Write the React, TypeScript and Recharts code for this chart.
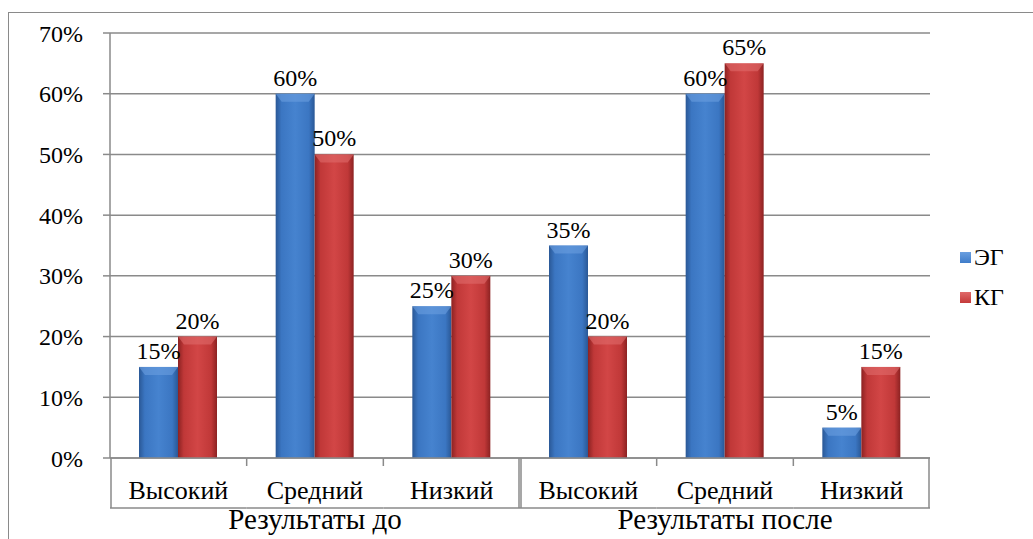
import React from "react";
import { BarChart, Bar, XAxis, YAxis, CartesianGrid, LabelList } from "recharts";

const LEVELS = ["Высокий", "Средний", "Низкий"];
const GROUPS = ["Результаты до", "Результаты после"];
const EG = [15, 60, 25, 35, 60, 5];
const KG = [20, 50, 30, 20, 65, 15];
const Y_TICKS = [0, 10, 20, 30, 40, 50, 60, 70];
const SERIES = [
  { key: "eg", name: "ЭГ", grad: "gBlue", top: "#6a9fe0", swatch: "#3f7cc9" },
  { key: "kg", name: "КГ", grad: "gRed", top: "#e06a6a", swatch: "#c43a3a" },
];

const W = 1025;
const H = 531;
const M = { top: 25, right: 103, left: 0, bottom: 0 };
const Y_W = 102;
const PLOT_W = W - M.left - M.right - Y_W;
const FONT = "'Liberation Serif', 'Times New Roman', serif";
const LINE = "#8a8a8a";

const data = EG.map((v, i) => ({
  key: GROUPS[Math.floor(i / 3)] + "|" + LEVELS[i % 3],
  level: LEVELS[i % 3],
  group: GROUPS[Math.floor(i / 3)],
  eg: v,
  kg: KG[i],
}));

function BevelBar(p: any) {
  const { x, y, width, height, grad, top } = p;
  if (!height || height <= 0) return null;
  const b = Math.min(8, height / 2);
  return (
    <g>
      <rect x={x} y={y} width={width} height={height} fill={`url(#${grad})`} />
      <polygon
        points={`${x},${y} ${x + width},${y} ${x + width - 6},${y + b} ${x + 6},${y + b}`}
        fill={top}
        opacity={0.6}
      />
    </g>
  );
}

function CatTick(p: any) {
  const { x, y, payload } = p;
  const i = payload.index ?? p.index ?? 0;
  const bw = PLOT_W / data.length;
  const l = x - bw / 2;
  const r = x + bw / 2;
  const first = i % 3 === 0;
  const last = i % 3 === 2;
  const h = 50;
  const d = data[i];
  return (
    <g>
      <line x1={l} x2={r} y1={y} y2={y} stroke={LINE} strokeWidth={1.5} />
      <line x1={l} x2={r} y1={y + h} y2={y + h} stroke={LINE} strokeWidth={1.5} />
      {first ? (
        <line x1={l + 1} x2={l + 1} y1={y} y2={y + h} stroke={LINE} strokeWidth={1.5} />
      ) : (
        <line x1={l} x2={l} y1={y} y2={y + 8} stroke={LINE} strokeWidth={1.5} />
      )}
      {last && <line x1={r - 1} x2={r - 1} y1={y} y2={y + h} stroke={LINE} strokeWidth={1.5} />}
      <text x={x} y={y + 41} textAnchor="middle" fontSize={26} style={{ fontFamily: FONT }} fill="#000">
        {d.level}
      </text>
      {i % 3 === 1 && (
        <text x={x} y={y + 71} textAnchor="middle" fontSize={29} style={{ fontFamily: FONT }} fill="#000">
          {d.group}
        </text>
      )}
    </g>
  );
}

export default function App() {
  return (
    <div style={{ padding: "8px 0 0 8px", width: W, height: H }}>
      <style>{`body { margin: 0; } .recharts-wrapper text { font-family: ${FONT}; }`}</style>
      <div style={{ position: "relative", width: W, height: H, fontFamily: FONT }}>
        <div
          style={{
            position: "absolute",
            left: 0,
            top: 4,
            width: W,
            height: H - 4,
            boxSizing: "border-box",
            borderLeft: `1.5px solid ${LINE}`,
            borderTop: `1.5px solid ${LINE}`,
          }}
        />
        <BarChart width={W} height={H} data={data} margin={M} barGap={0} barSize={39}>
          <defs>
            <linearGradient id="gBlue" x1="0" y1="0" x2="1" y2="0">
              <stop offset="0%" stopColor="#2a5896" />
              <stop offset="15%" stopColor="#3b76c2" />
              <stop offset="50%" stopColor="#4683cf" />
              <stop offset="85%" stopColor="#3b76c2" />
              <stop offset="100%" stopColor="#2a5896" />
            </linearGradient>
            <linearGradient id="gRed" x1="0" y1="0" x2="1" y2="0">
              <stop offset="0%" stopColor="#8c2222" />
              <stop offset="15%" stopColor="#c03838" />
              <stop offset="50%" stopColor="#d24646" />
              <stop offset="85%" stopColor="#c03838" />
              <stop offset="100%" stopColor="#8c2222" />
            </linearGradient>
          </defs>
          <CartesianGrid vertical={false} stroke={LINE} strokeWidth={1.5} />
          <XAxis
            dataKey="key"
            axisLine={false}
            tickLine={false}
            tickSize={0}
            tickMargin={0}
            interval={0}
            height={81}
            tick={<CatTick />}
          />
          <YAxis
            domain={[0, 70]}
            ticks={Y_TICKS}
            width={Y_W}
            tickFormatter={(v) => `${v}%`}
            axisLine={{ stroke: LINE, strokeWidth: 1.5 }}
            tickLine={{ stroke: LINE, strokeWidth: 1.5 }}
            tickSize={7}
            tickMargin={20}
            tick={{ fontSize: 24, fill: "#000" }}
          />
          {SERIES.map((s) => (
            <Bar
              key={s.key}
              dataKey={s.key}
              name={s.name}
              fill={s.swatch}
              isAnimationActive={false}
              shape={(p: any) => <BevelBar {...p} grad={s.grad} top={s.top} />}
            >
              <LabelList
                dataKey={s.key}
                position="top"
                offset={8}
                formatter={(v: any) => `${v}%`}
                fontSize={24}
                fill="#000"
              />
            </Bar>
          ))}
        </BarChart>
        <div style={{ position: "absolute", left: 952, top: 229, fontFamily: FONT, fontSize: 24 }}>
          {SERIES.map((s) => (
            <div key={s.key} style={{ display: "flex", alignItems: "center", height: 40 }}>
              <span
                style={{
                  display: "inline-block",
                  width: 11,
                  height: 11,
                  marginRight: 3,
                  background: `linear-gradient(${s.top}, ${s.swatch})`,
                }}
              />
              <span>{s.name}</span>
            </div>
          ))}
        </div>
      </div>
    </div>
  );
}
